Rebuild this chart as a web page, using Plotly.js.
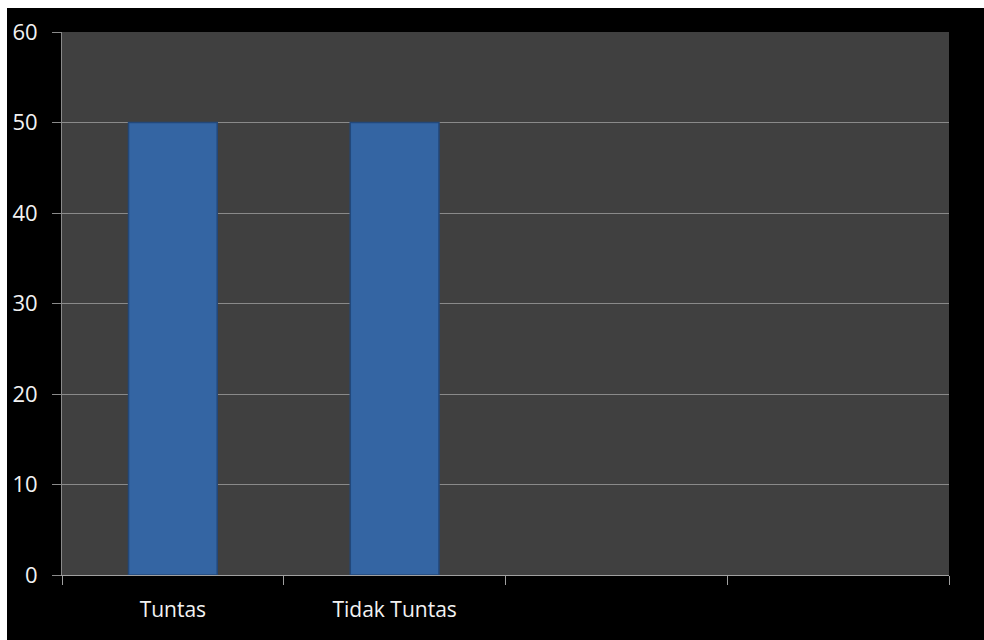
<!DOCTYPE html>
<html><head><meta charset="utf-8">
<script src="https://cdn.plot.ly/plotly-3.0.1.min.js"></script>
<style>
html,body{margin:0;padding:0;background:#fff;width:984px;height:640px;overflow:hidden}
#chart{position:absolute;left:7px;top:8px;width:977px;height:632px}
</style></head><body>
<div id="chart"></div>
<script>
const categories = ["Tuntas", "Tidak Tuntas", " ", "  "];
const values = [50, 50, null, null];
const yTicks = [0, 10, 20, 30, 40, 50, 60];

const trace = {
  type: "bar",
  x: categories,
  y: values,
  width: 0.4,
  marker: { color: "#3465a3", line: { color: "#23487a", width: 1.5 } },
  hoverinfo: "x+y"
};

const layout = {
  width: 977, height: 632,
  margin: { l: 55, r: 35, t: 24, b: 65 },
  paper_bgcolor: "#000000",
  plot_bgcolor: "#404040",
  showlegend: false,
  font: { family: "'Open Sans', sans-serif", color: "#ffffff", size: 20 },
  xaxis: {
    type: "category",
    categoryorder: "array", categoryarray: categories,
    range: [-0.5, 3.5],
    tickson: "boundaries",
    ticks: "outside", ticklen: 9, tickcolor: "#a0a0a0", tickwidth: 1,
    showgrid: false,
    showline: true, linecolor: "#a0a0a0", linewidth: 1,
    tickfont: { family: "'Open Sans', sans-serif", size: 21, color: "#f2f2f2" },
    ticklabelstandoff: 16,
    fixedrange: true
  },
  yaxis: {
    range: [0, 60],
    tickvals: yTicks,
    ticktext: yTicks.map(String),
    ticks: "outside", ticklen: 9, tickcolor: "#8a8a8a", tickwidth: 1,
    showgrid: true, gridcolor: "#8a8a8a", gridwidth: 1,
    showline: true, linecolor: "#8a8a8a", linewidth: 1,
    zeroline: false,
    tickfont: { family: "'Open Sans', sans-serif", size: 22, color: "#f2f2f2" },
    ticklabelstandoff: 10,
    fixedrange: true
  }
};

Plotly.newPlot("chart", [trace], layout, { displayModeBar: false, staticPlot: true });
</script>
</body></html>
